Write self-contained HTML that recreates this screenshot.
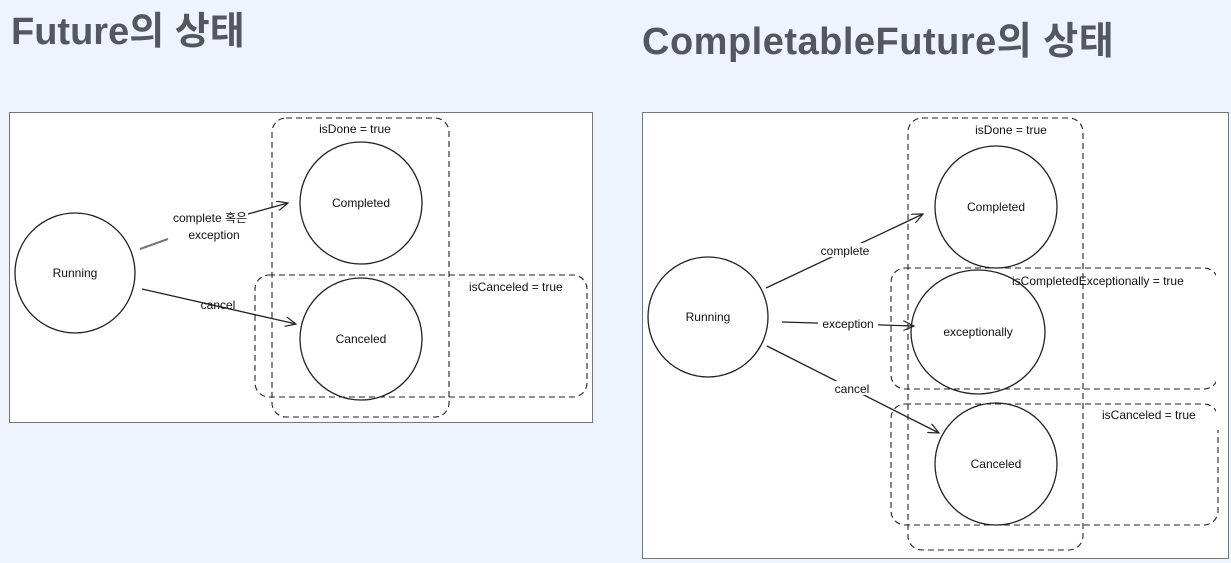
<!DOCTYPE html>
<html><head><meta charset="utf-8"><style>
html,body{margin:0;padding:0;background:#eef3fe;width:1231px;height:563px;overflow:hidden}
.t{position:absolute;font-family:"Liberation Sans","Noto Sans CJK KR",sans-serif;font-weight:bold;font-size:38px;color:#54575f;white-space:nowrap}
svg{position:absolute;left:0;top:0}
svg text{font-family:"Liberation Sans","Noto Sans CJK KR",sans-serif;font-size:12px;fill:#111}
</style></head><body>
<div class="t" style="left:11px;top:0px;letter-spacing:0px">Future의 상태</div>
<div class="t" style="left:642px;top:10px;letter-spacing:0.5px">CompletableFuture의 상태</div>
<svg width="1231" height="563" viewBox="0 0 1231 563">
<defs><marker id="a" markerWidth="12" markerHeight="10" refX="11" refY="5" orient="auto" markerUnits="userSpaceOnUse"><path d="M0,0 L11,5 L0,10" fill="none" stroke="#222" stroke-width="1.2"/></marker></defs>
<rect x="9.5" y="112.5" width="583" height="310" fill="#fff" stroke="#777"/>
<g fill="none" stroke="#222" stroke-width="1.1" stroke-dasharray="6,4">
<rect x="272" y="118" width="177" height="299" rx="14"/>
<rect x="255" y="275" width="332" height="122" rx="14"/>
</g>
<g fill="none" stroke="#222" stroke-width="1.3">
<circle cx="75" cy="273" r="60"/>
<circle cx="361" cy="203" r="61"/>
<circle cx="361" cy="339" r="61"/>
<line x1="140" y1="249" x2="168" y2="239" stroke="#777" stroke-width="2"/>
<line x1="248" y1="214" x2="288" y2="203" marker-end="url(#a)"/>
<line x1="142" y1="289" x2="296" y2="324" marker-end="url(#a)"/>
</g>
<text x="75" y="277" text-anchor="middle">Running</text>
<text x="361" y="207" text-anchor="middle">Completed</text>
<text x="361" y="343" text-anchor="middle">Canceled</text>
<text x="210" y="222" text-anchor="middle">complete 혹은</text>
<text x="214" y="239" text-anchor="middle">exception</text>
<text x="218" y="309" text-anchor="middle">cancel</text>
<text x="355" y="133" text-anchor="middle">isDone = true</text>
<text x="469" y="291">isCanceled = true</text>
<rect x="642.5" y="112.5" width="586" height="446" fill="#fff" stroke="#777"/>
<g fill="none" stroke="#222" stroke-width="1.1" stroke-dasharray="6,4">
<rect x="908" y="118" width="175" height="432" rx="14"/>
<rect x="891" y="268" width="327" height="121" rx="14"/>
<rect x="891" y="404" width="327" height="121" rx="14"/>
</g>
<g fill="none" stroke="#222" stroke-width="1.3">
<circle cx="708" cy="317" r="60"/>
<circle cx="996" cy="207" r="61"/>
<ellipse cx="978" cy="332" rx="67" ry="62"/>
<circle cx="996" cy="464" r="61"/>
<line x1="766" y1="288" x2="923" y2="214" marker-end="url(#a)"/>
<line x1="782" y1="322" x2="914" y2="326" marker-end="url(#a)"/>
<line x1="767" y1="346" x2="939" y2="433" marker-end="url(#a)"/>
</g>
<rect x="818" y="243" width="56" height="14" fill="#fff"/>
<rect x="818" y="317" width="60" height="14" fill="#fff"/>
<rect x="830" y="381" width="44" height="14" fill="#fff"/>
<text x="708" y="321" text-anchor="middle">Running</text>
<text x="996" y="211" text-anchor="middle">Completed</text>
<text x="978" y="336" text-anchor="middle">exceptionally</text>
<text x="996" y="468" text-anchor="middle">Canceled</text>
<text x="845" y="255" text-anchor="middle">complete</text>
<text x="848" y="328" text-anchor="middle">exception</text>
<text x="852" y="393" text-anchor="middle">cancel</text>
<text x="1011" y="134" text-anchor="middle">isDone = true</text>
<text x="1012" y="285">isCompletedExceptionally = true</text>
<text x="1102" y="419">isCanceled = true</text>
<rect x="1216" y="270" width="12" height="160" fill="#fff"/>
<line x1="1228.5" y1="270" x2="1228.5" y2="430" stroke="#777"/>
</svg>
</body></html>
